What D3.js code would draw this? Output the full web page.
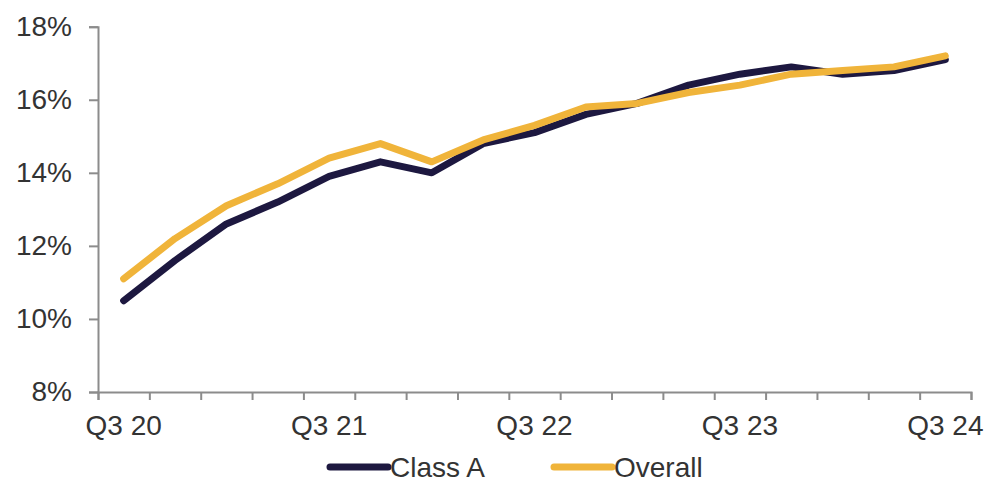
<!DOCTYPE html>
<html>
<head>
<meta charset="utf-8">
<script src="https://cdn.jsdelivr.net/npm/d3@7"></script>
<style>
  html, body { margin: 0; padding: 0; background: #fff; }
  svg { display: block; font-family: "Liberation Sans", Arial, sans-serif; }
</style>
</head>
<body>
<svg id="chart" width="986" height="479"></svg>
<script>
const categories = ["Q3 20","Q4 20","Q1 21","Q2 21","Q3 21","Q4 21","Q1 22","Q2 22","Q3 22","Q4 22","Q1 23","Q2 23","Q3 23","Q4 23","Q1 24","Q2 24","Q3 24"];
const classA  = [10.5, 11.6, 12.6, 13.2, 13.9, 14.3, 14.0, 14.8, 15.1, 15.6, 15.9, 16.4, 16.7, 16.9, 16.7, 16.8, 17.1];
const overall = [11.1, 12.2, 13.1, 13.7, 14.4, 14.8, 14.3, 14.9, 15.3, 15.8, 15.9, 16.2, 16.4, 16.7, 16.8, 16.9, 17.2];
const yTicks = [8, 10, 12, 14, 16, 18];
const xLabels = ["Q3 20","Q3 21","Q3 22","Q3 23","Q3 24"];
const seriesNames = ["Class A", "Overall"];
const seriesColors = ["#1d1840", "#f0b43a"];

(function () {
const svg = d3.select("#chart");
const mLeft = 98, mRight = 971, mTop = 26.7, mBottom = 392;
const axisColor = "#8c8c8c", textColor = "#333333";

const x = d3.scaleBand().domain(categories).range([mLeft, mRight]).padding(0);
const xEdge = d3.scaleLinear().domain([0, categories.length]).range([mLeft, mRight]);
const y = d3.scaleLinear().domain([8, 18]).range([mBottom, mTop]);

// Y axis
const yAxis = svg.append("g").attr("transform", `translate(${mLeft},0)`)
  .call(d3.axisLeft(y).tickValues(yTicks).tickSize(9).tickPadding(17).tickFormat(d => d + "%"));
yAxis.select(".domain").attr("stroke", axisColor).attr("stroke-width", 2);
yAxis.selectAll(".tick line").attr("stroke", axisColor).attr("stroke-width", 2);
yAxis.selectAll(".tick text").attr("fill", textColor).attr("font-size", 28)
  .attr("font-family", "'Liberation Sans', Arial, sans-serif");

// X axis ticks at band edges
const xAxis = svg.append("g").attr("transform", `translate(0,${mBottom})`)
  .call(d3.axisBottom(xEdge).tickValues(d3.range(categories.length + 1)).tickSize(8).tickFormat(""));
xAxis.select(".domain").attr("stroke", axisColor).attr("stroke-width", 2);
xAxis.selectAll(".tick line").attr("stroke", axisColor).attr("stroke-width", 2);

// X labels
const xLab = svg.append("g").attr("transform", `translate(0,${mBottom})`)
  .call(d3.axisBottom(x).tickValues(xLabels).tickSize(0).tickPadding(23));
xLab.select(".domain").remove();
xLab.selectAll(".tick text").attr("fill", textColor).attr("font-size", 28)
  .attr("font-family", "'Liberation Sans', Arial, sans-serif");

const cx = c => x(c) + x.bandwidth() / 2;
const line = d3.line().x((d, i) => cx(categories[i])).y(d => y(d));

[classA, overall].forEach((s, k) => {
  svg.append("path").datum(s)
    .attr("fill", "none")
    .attr("stroke", seriesColors[k])
    .attr("stroke-width", 7)
    .attr("stroke-linecap", "round")
    .attr("stroke-linejoin", "round")
    .attr("d", line);
});

// Legend
const legendX = [330, 554];
const legend = svg.append("g");
seriesNames.forEach((n, k) => {
  const g = legend.append("g").attr("transform", `translate(${legendX[k]},467)`);
  g.append("line").attr("x1", 0).attr("x2", 58).attr("y1", 0).attr("y2", 0)
    .attr("stroke", seriesColors[k]).attr("stroke-width", 7).attr("stroke-linecap", "round");
  g.append("text").attr("x", 60).attr("y", 0).attr("dy", "0.35em").attr("fill", textColor)
    .attr("font-size", 28).text(n);
});
})();
</script>
</body>
</html>
